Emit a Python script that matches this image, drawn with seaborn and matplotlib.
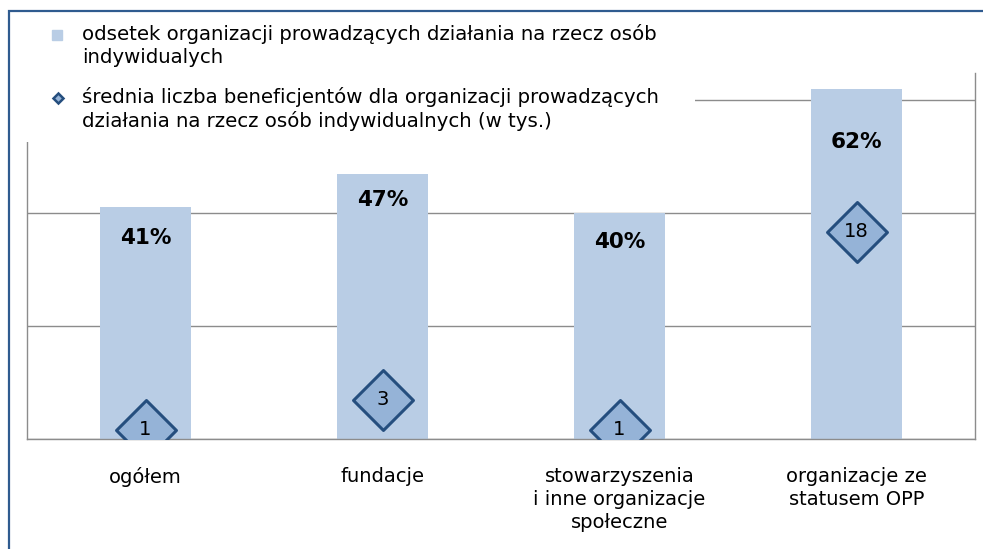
import numpy as np
import matplotlib
matplotlib.use("Agg")
from matplotlib import pyplot as plt
from matplotlib.patches import Rectangle
from matplotlib.lines import Line2D
import seaborn as sns

# data
categories = ["ogółem", "fundacje", "stowarzyszenia\ni inne organizacje\nspołeczne",
              "organizacje ze\nstatusem OPP"]
share = [0.41, 0.47, 0.40, 0.62]          # odsetek organizacji (bars)
beneficiaries = [0.8, 3.4, 0.8, 18.0]     # średnia liczba beneficjentów, tys. (diamonds)
legend_labels = ["odsetek organizacji prowadzących działania na rzecz osób\nindywidualych",
                 "średnia liczba beneficjentów dla organizacji prowadzących\n"
                 "działania na rzecz osób indywidualnych (w tys.)"]

# colours
bar_col = "#B9CDE5"
dia_fill = "#95B3D7"
dia_edge = "#254E7E"
grid_col = "#8C8C8C"
frame_col = "#2F5B8F"

sns.set_theme(style="white")
plt.rcParams["font.family"] = ["DejaVu Sans"]
plt.rcParams["text.color"] = "black"
plt.rcParams["xtick.color"] = "black"

W, H = 983, 549
fig = plt.figure(figsize=(W / 100, H / 100), dpi=100)

def px(x, y):
    # pixel (from top-left) -> figure fraction
    return x / W, 1 - y / H

left, top = px(27, 73)
right, bottom = px(975, 439)
ax = fig.add_axes([left, bottom, right - left, top - bottom])

sns.barplot(x=categories, y=share, color=bar_col, width=0.38, saturation=1,
            edgecolor="none", ax=ax)
ax.set_ylim(0, 0.648)
ax.set_xlim(-0.5, 3.5)
ax.set_yticks([0, 0.2, 0.4, 0.6])
ax.set_yticklabels([])
ax.yaxis.grid(True, color=grid_col, lw=1)
ax.set_axisbelow(True)
ax.tick_params(axis="y", length=0)
ax.tick_params(axis="x", which="major", length=0, pad=20, labelsize=14, labelcolor="black")
ax.set_xticks(np.arange(-0.5, 4, 1), minor=True)
ax.tick_params(axis="x", which="minor", length=6, width=1, color=grid_col, direction="out")
for lbl in ax.get_xticklabels():
    lbl.set_linespacing(1.28)
    lbl.set_verticalalignment("top")
for side in ["left", "right", "bottom"]:
    ax.spines[side].set_color(grid_col)
    ax.spines[side].set_linewidth(1)
ax.spines["top"].set_visible(False)
ax.set_xlabel("")
ax.set_ylabel("")

# percentage labels inside bars
label_drop = [31, 26, 29, 53]
for i, v in enumerate(share):
    ax.annotate(f"{v*100:.0f}%", (i, v), xytext=(0, -label_drop[i]),
                textcoords="offset pixels", ha="center", va="center",
                fontsize=15.5, fontweight="bold", color="black")

# secondary axis with diamonds
ax2 = ax.twinx()
sns.scatterplot(x=np.arange(len(categories)), y=beneficiaries, marker="D", s=930,
                color=dia_fill, edgecolor=dia_edge, linewidth=2.2, ax=ax2, zorder=5)
ax2.set_ylim(0, 31.8)
ax2.set_yticks([])
for s in ax2.spines.values():
    s.set_visible(False)
ax2.set_ylabel("")
for i, v in enumerate(beneficiaries):
    ax2.text(i, v, f"{v:.0f}", ha="center", va="center", fontsize=14, color="black", zorder=6)

# legend drawn by hand on a white panel
lx0, ly0 = px(20, 15)
lx1, ly1 = px(695, 142)
fig.patches.append(Rectangle((lx0, ly1), lx1 - lx0, ly0 - ly1, transform=fig.transFigure,
                             facecolor="white", edgecolor="none", zorder=2))
mx, my = px(57, 35)
fig.add_artist(Line2D([mx], [my], marker="s", ms=7, ls="", color=bar_col,
                      transform=fig.transFigure, zorder=3))
mx, my = px(58, 98)
fig.add_artist(Line2D([mx], [my], marker="D", ms=5.5, ls="", markerfacecolor=dia_fill,
                      markeredgecolor=dia_edge, markeredgewidth=1.8,
                      transform=fig.transFigure, zorder=3))
tx, ty = px(82, 24)
fig.text(tx, ty, legend_labels[0], fontsize=14.2, va="top", ha="left", linespacing=1.28, zorder=4)
tx, ty = px(82, 87)
fig.text(tx, ty, legend_labels[1], fontsize=14.2, va="top", ha="left", linespacing=1.28, zorder=4)

# outer frame (left and top edges visible)
fx, fy = px(9, 11)
fig.patches.append(Rectangle((fx, -0.5), 1.5, fy + 0.5, transform=fig.transFigure,
                             fill=False, edgecolor=frame_col, lw=1.6, zorder=2))

fig.savefig("out.png", dpi=100)
